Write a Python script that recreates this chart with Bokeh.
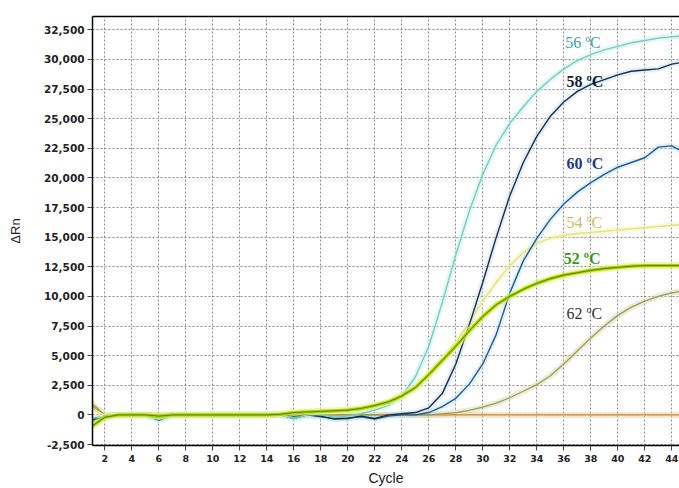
from bokeh.plotting import figure
from bokeh.models import Range1d, FixedTicker, NumeralTickFormatter, LinearAxis, ColumnDataSource
from bokeh.core.properties import value
from bokeh.embed import file_html
from bokeh.resources import INLINE

cycles = list(range(1, 46))

s56 = [-300, -100, 0, 0, 0, -400, 0, 0, 0, 50,
       50, 50, 50, 50, 50, -300, 0, 0, -200, -100,
       100, 400, 800, 1600, 3200, 5800, 9500, 13500, 17200, 20300,
       22800, 24600, 26000, 27300, 28300, 29200, 29900, 30400, 30800, 31100,
       31400, 31600, 31800, 31900, 32000]
s58 = [-500, -150, 0, 0, 0, -200, 0, 0, 0, 0,
       0, 0, 0, 0, 0, -100, 0, -100, -350, -300,
       -100, -300, 0, 100, 200, 600, 1800, 4300, 7600, 11200,
       15000, 18500, 21300, 23500, 25200, 26400, 27300, 27900, 28300, 28700,
       29000, 29100, 29200, 29600, 29800]
s60 = [-400, -100, 0, 0, 0, -450, 0, 0, 0, 0,
       0, 0, 0, 0, 0, -300, 0, -150, -300, -250,
       -150, -350, -100, 0, 0, 200, 700, 1400, 2600, 4300,
       6800, 10300, 13000, 14900, 16500, 17800, 18800, 19600, 20300, 20900,
       21300, 21700, 22600, 22700, 22100]
s54 = [600, -50, 0, 0, 0, -100, 0, 0, 0, 0,
       0, 0, 0, 0, 50, 150, 200, 250, 300, 350,
       450, 650, 950, 1500, 2400, 3400, 4600, 6100, 7800, 9600,
       11200, 12600, 13700, 14500, 14900, 15150, 15300, 15400, 15500, 15600,
       15700, 15800, 15900, 16000, 16100]
s52 = [-1000, -200, 0, 0, 0, -100, 0, 0, 0, 0,
       0, 0, 0, 0, 50, 200, 250, 300, 350, 400,
       550, 800, 1100, 1600, 2300, 3400, 4600, 5800, 7100, 8300,
       9300, 10000, 10600, 11100, 11500, 11800, 12000, 12200, 12350, 12450,
       12550, 12600, 12600, 12600, 12600]
s62 = [1000, 0, 0, 0, 0, 0, 0, 0, 0, 0,
       0, 0, 0, 0, 0, 0, 0, 0, 0, 0,
       0, 0, 0, 0, 0, 0, 80, 200, 380, 650,
       1000, 1450, 2000, 2550, 3300, 4300, 5400, 6500, 7500, 8400,
       9100, 9600, 10000, 10300, 10500]
sntc = [800, -50, 0, 0, 0, 0, 0, 0, 0, 0,
        0, 0, 0, 0, 0, 0, 0, 0, 0, 0,
        0, 0, 0, 0, 0, 0, 0, 0, 0, 0,
        0, 0, 0, 0, 0, 0, 0, 0, 0, 0,
        0, 0, 0, 0, 0]

x_ticks = list(range(2, 45, 2))
y_ticks = list(range(-2500, 32501, 2500))

label_texts = ["56 ºC", "58 ºC", "60 ºC", "54 ºC", "52 ºC", "62 ºC"]
label_x = [36.1, 36.2, 36.2, 36.2, 36.0, 36.2]
label_y = [31400, 28130, 21180, 16230, 13220, 8530]
label_colors = ["#3a9fb2", "#121a33", "#1d3c86", "#cbbb62", "#3a9a10", "#333333"]
label_styles = ["normal", "bold", "bold", "normal", "bold", "normal"]

p = figure(width=679, height=488, output_backend="svg", toolbar_location=None,
           x_range=Range1d(1.09, 44.57), y_range=Range1d(-2580, 33620),
           min_border_left=92, min_border_right=0, min_border_top=16, min_border_bottom=40)
p.background_fill_color = "white"
p.border_fill_color = "white"
p.outline_line_color = None

for g in (p.xgrid, p.ygrid):
    g.grid_line_color = "#8a8a8a"
    g.grid_line_dash = "2 2"
    g.grid_line_width = 1
p.xaxis.ticker = FixedTicker(ticks=x_ticks)
p.yaxis.ticker = FixedTicker(ticks=y_ticks)
p.yaxis.formatter = NumeralTickFormatter(format="0,0")

for ax in (p.xaxis, p.yaxis):
    ax.axis_line_color = "black"
    ax.axis_line_width = 1.5
    ax.major_tick_line_color = "#444444"
    ax.major_tick_out = 5
    ax.major_tick_in = 0
    ax.minor_tick_line_color = None
    ax.major_label_text_font = "DejaVu Sans"
    ax.major_label_text_font_style = "bold"
    ax.major_label_text_color = "#222222"
    ax.axis_label_text_font = "Liberation Sans"
    ax.axis_label_text_font_style = "normal"
    ax.axis_label_text_color = "#222222"

p.yaxis.major_label_text_font_size = "10.5px"
p.xaxis.major_label_text_font_size = "9.5px"
p.yaxis.major_label_standoff = 3
p.xaxis.major_label_standoff = 4
p.yaxis.axis_label = "ΔRn"
p.xaxis.axis_label = "Cycle"
p.yaxis.axis_label_text_font_size = "13px"
p.xaxis.axis_label_text_font_size = "14px"
p.yaxis.axis_label_standoff = 18
p.xaxis.axis_label_standoff = 5

top_axis = LinearAxis(ticker=FixedTicker(ticks=[]), major_tick_line_color=None,
                      minor_tick_line_color=None, axis_line_color="black",
                      axis_line_width=1.5)
p.add_layout(top_axis, "above")

src = ColumnDataSource(dict(x=cycles, s56=s56, s58=s58, s60=s60, s54=s54,
                            s52=s52, s62=s62, sntc=sntc))

series = [
    ("sntc", "#c48e3c", "#e8c890", 1.3),
    ("s62", "#9a9a58", "#d4d4a8", 1.3),
    ("s54", "#e4e47a", "#f4f4c0", 1.5),
    ("s60", "#245a8e", "#bcdff2", 1.4),
    ("s58", "#1b2b4c", "#c0e0ee", 1.4),
    ("s56", "#6fcfba", "#c6f0ee", 1.4),
]
for col, c, halo, w in series:
    p.line("x", col, source=src, line_color=halo, line_width=6, line_alpha=0.45)
for col, c, halo, w in series:
    p.line("x", col, source=src, line_color=c, line_width=w)

p.line("x", "s52", source=src, line_color="#e6f27a", line_width=7, line_alpha=0.6)
p.line("x", "s52", source=src, line_color="#a8d400", line_width=3.2)
p.line("x", "s52", source=src, line_color="#5e7d00", line_width=1.0)

lsrc = ColumnDataSource(dict(x=label_x, y=label_y, t=label_texts, c=label_colors, s=label_styles))
p.text("x", "y", text="t", source=lsrc, text_color="c", text_font_style="s",
       text_font=value("Liberation Serif"), text_font_size="16px",
       text_baseline="middle", text_align="left")

open("out.html", "w").write(file_html(p, INLINE))
